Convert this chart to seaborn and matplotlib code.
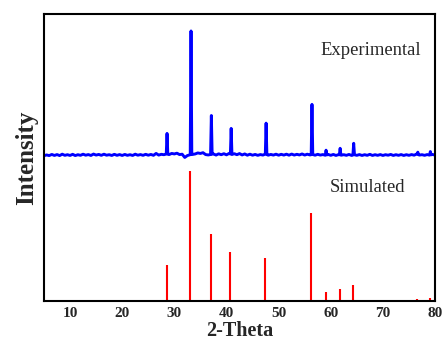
import numpy as np
import pandas as pd
import matplotlib
matplotlib.use("Agg")
import matplotlib.pyplot as plt
import seaborn as sns

# Simulated reflections (2-theta, relative intensity %)
sim_theta = [28.5, 33.1, 37.0, 40.7, 47.4, 50.5, 56.3, 59.0, 61.7, 64.2, 71.8, 74.2, 76.6, 79.0]
sim_int = [27.6, 100.0, 51.0, 37.3, 33.0, 1.0, 67.5, 6.9, 8.9, 12.2, 0.6, 0.6, 1.5, 2.5]

# Experimental pattern: peak positions and relative heights (%)
exp_peak_theta = [28.6, 33.2, 37.1, 40.9, 47.6, 56.4, 59.1, 61.8, 64.4, 76.7, 79.1]
exp_peak_int = [18.2, 100.0, 32.5, 22.2, 26.4, 41.4, 4.8, 6.3, 10.3, 3.2, 3.7]

# Experimental background, sampled every 0.5 degree from 5 to 80
bg_theta = [5.0 + 0.5 * i for i in range(151)]
bg_int = [
    0.4, 1.0, 0.5, 1.4, 0.6, 1.3, 0.5, 1.6, 0.7, 1.2,   # 5.0 - 9.5
    0.6, 1.5, 0.5, 1.2, 0.7, 1.6, 0.8, 1.3, 0.6, 1.7,   # 10.0 - 14.5
    0.9, 1.4, 0.7, 1.6, 0.8, 1.2, 0.6, 1.5, 0.7, 1.3,   # 15.0 - 19.5
    0.6, 1.4, 0.7, 1.2, 0.6, 1.6, 0.8, 1.3, 0.7, 1.5,   # 20.0 - 24.5
    0.8, 1.4, 0.7, 2.2, 0.9, 1.5, 1.2, 1.8, 1.3, 2.2,   # 25.0 - 29.5
    1.8, 2.4, 1.3, 1.6, -1.0, 0.5, 1.2, 1.4, 1.8, 2.6,  # 30.0 - 34.5
    2.2, 2.8, 1.3, 1.0, 1.4, 1.8, 0.9, 1.9, 1.2, 2.0,   # 35.0 - 39.5
    1.1, 2.2, 1.3, 2.0, 1.2, 2.1, 1.0, 1.8, 0.8, 1.6,   # 40.0 - 44.5
    0.8, 1.4, 0.7, 1.3, 0.9, 1.8, 0.8, 1.4, 0.9, 1.6,   # 45.0 - 49.5
    0.8, 1.5, 0.9, 1.6, 0.8, 1.7, 0.9, 1.5, 1.0, 1.8,   # 50.0 - 54.5
    0.9, 1.6, 1.0, 1.4, 0.8, 1.5, 0.9, 1.3, 0.7, 1.4,   # 55.0 - 59.5
    0.7, 1.4, 0.6, 1.3, 0.8, 1.2, 0.7, 1.4, 0.6, 1.2,   # 60.0 - 64.5
    0.7, 1.3, 0.6, 1.2, 0.7, 1.5, 0.6, 1.2, 0.7, 1.3,   # 65.0 - 69.5
    0.6, 1.2, 0.8, 1.4, 0.6, 1.2, 0.7, 1.3, 0.6, 1.2,   # 70.0 - 74.5
    0.7, 1.3, 0.8, 1.8, 0.9, 1.2, 0.7, 1.3, 0.8, 1.4,   # 75.0 - 79.5
    0.9,                                                 # 80.0
]

# Vertical placement of the two patterns on a shared axis
exp_offset = 111.0
exp_scale = 0.96
half_width = 0.15


def background_at(t):
    return float(np.interp(t, bg_theta, bg_int))


# Merge background samples with narrow peak profiles into one trace
points = list(zip(bg_theta, bg_int))
for c, h in zip(exp_peak_theta, exp_peak_int):
    points = [p for p in points if abs(p[0] - c) > half_width]
    points += [(c - half_width, background_at(c - half_width)),
               (c, h),
               (c + half_width, background_at(c + half_width))]
points.sort(key=lambda p: p[0])
exp_df = pd.DataFrame(points, columns=["theta", "counts"])
exp_df["y"] = exp_offset + exp_scale * exp_df["counts"]

sns.set_style("white")
plt.rcParams["font.family"] = ["Liberation Serif", "DejaVu Serif"]

fig = plt.figure(figsize=(4.43, 3.40), dpi=100)
ax = fig.add_axes([0.0993, 0.1147, 0.8827, 0.8441])

sns.lineplot(data=exp_df, x="theta", y="y", ax=ax, color="#0000ff",
             linewidth=2.1, sort=False, estimator=None)
ax.vlines(sim_theta, 0, sim_int, color="#ff0000", linewidth=1.5)

ax.set_xlim(5, 80)
ax.set_ylim(0, 220)
ax.set_xticks([10, 20, 30, 40, 50, 60, 70, 80])
ax.set_yticks([])
ax.tick_params(axis="x", length=0, pad=4.5, labelsize=11)
for lbl in ax.get_xticklabels():
    lbl.set_fontweight("bold")

ax.set_xlabel("2-Theta", fontsize=14.5, fontweight="bold", labelpad=0.2)
ax.set_ylabel("Intensity", fontsize=18, fontweight="bold", labelpad=4)

for s in ax.spines.values():
    s.set_color("black")
    s.set_linewidth(1.5)

ax.text(58.1, 192, "Experimental", fontsize=13.4, va="center", ha="left")
ax.text(59.85, 86.8, "Simulated", fontsize=13.4, va="center", ha="left")

fig.savefig("out.png", dpi=100)
